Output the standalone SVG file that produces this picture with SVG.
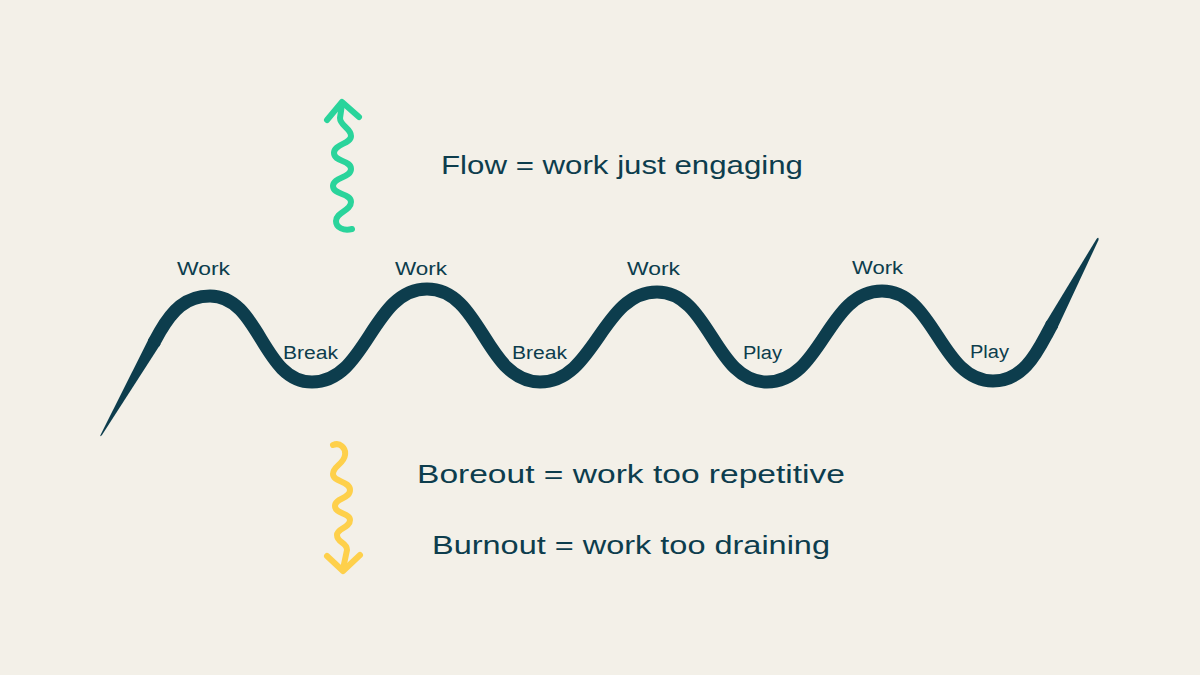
<svg xmlns="http://www.w3.org/2000/svg" width="1200" height="675" viewBox="0 0 1200 675">
  <style>
    .wave { fill: none; stroke: #0d3d4d; stroke-width: 13; stroke-linecap: butt; stroke-linejoin: round; }
    .taper { fill: #0d3d4d; stroke: none; }
    .green { fill: none; stroke: #2ad49b; stroke-width: 6; stroke-linecap: round; stroke-linejoin: round; }
    .yellow { fill: none; stroke: #fed04b; stroke-width: 6; stroke-linecap: round; stroke-linejoin: round; }
    .label { font-family: "Liberation Sans", Arial, sans-serif; font-size: 18px; fill: #0d3d4d; text-anchor: middle; }
    .big { font-family: "Liberation Sans", Arial, sans-serif; font-size: 26px; fill: #0d3d4d; text-anchor: middle; }
  </style>
  <rect width="1200" height="675" fill="#f3f0e8"/>

  <g id="wave">
    <path class="taper" d="M149.4,337.5 L101,434 Q99,438 102,435 L160.6,344 Z"/>
    <path class="wave" d="M153.5,343.3 L160,331.6 C172,311 185,296 210,296 C260,296 262,382 312,382 C367,382 372,289 427,289 C482,289 485,382 540,382 C595,382 602,292 657,292 C710,292 714,382 767,382 C822,382 827,291 882,291 C935,291 940,381 993,381 C1022,381 1036,354.5 1046.3,335.1 L1052.4,323.7"/>
    <path class="taper" d="M1045.3,323.2 L1096.5,239 Q1099,236 1098.5,240 L1056.7,329.4 Z"/>
  </g>

  <g id="flow-arrow">
    <path class="green" d="M352,229 C344,231 336,228 336,221 C336,212 351,211 351,202 C351,193 333,195 333,186 C333,177 351,178 351,169 C351,160 334,162 334,153 C334,144 351,144 351,136 C351,128 340,126 340,118 L342,104"/>
    <path class="green" d="M327,120 L342,102 L359,117"/>
  </g>

  <g id="burn-arrow">
    <path class="yellow" d="M333,445 C340,442 346,448 345,455 C344,464 333,466 333,474 C333,482 350,481 350,490 C350,499 335,498 335,506 C335,514 350,513 350,520 C350,528 337,528 337,535 C337,543 347,542 347,550 L343,569"/>
    <path class="yellow" d="M327,556 L343,571 L360,555"/>
  </g>

  <g id="labels">
    <text class="label" x="203.5" y="275" textLength="53" lengthAdjust="spacingAndGlyphs">Work</text>
    <text class="label" x="310.5" y="359" textLength="55" lengthAdjust="spacingAndGlyphs">Break</text>
    <text class="label" x="421" y="275" textLength="52" lengthAdjust="spacingAndGlyphs">Work</text>
    <text class="label" x="539.5" y="359" textLength="55" lengthAdjust="spacingAndGlyphs">Break</text>
    <text class="label" x="653.5" y="275" textLength="53" lengthAdjust="spacingAndGlyphs">Work</text>
    <text class="label" x="762.5" y="359" textLength="39" lengthAdjust="spacingAndGlyphs">Play</text>
    <text class="label" x="877.5" y="274" textLength="51" lengthAdjust="spacingAndGlyphs">Work</text>
    <text class="label" x="989.5" y="358" textLength="39" lengthAdjust="spacingAndGlyphs">Play</text>
  </g>

  <g id="flow-text">
    <text class="big" x="622" y="174" textLength="362" lengthAdjust="spacingAndGlyphs">Flow = work just engaging</text>
  </g>
  <g id="boreout-text">
    <text class="big" x="631" y="483" textLength="428" lengthAdjust="spacingAndGlyphs">Boreout = work too repetitive</text>
  </g>
  <g id="burnout-text">
    <text class="big" x="631" y="554" textLength="398" lengthAdjust="spacingAndGlyphs">Burnout = work too draining</text>
  </g>
</svg>
